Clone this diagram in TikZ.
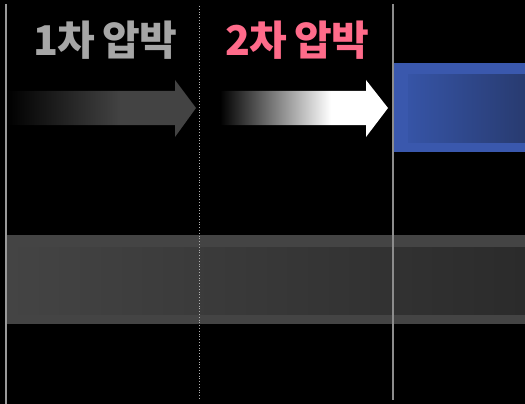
\documentclass[tikz,border=0pt]{standalone}
\usepackage{fontspec}
\newfontfamily\kor{Noto Sans CJK KR}[WordSpace=0.9, LetterSpace=-2.5]
\usepackage{tikz}
\usetikzlibrary{calc}
\definecolor{graytxt}{HTML}{A6A6A6}
\definecolor{pinktxt}{HTML}{FF6B8A}
\definecolor{arrowgray}{HTML}{434343}
\definecolor{blueedge}{HTML}{3A58AD}
\definecolor{blueleft}{HTML}{3654A6}
\definecolor{blueright}{HTML}{283B70}
\definecolor{bandedge}{HTML}{444444}
\definecolor{bandright}{HTML}{2B2B2B}
\pgfdeclarehorizontalshading{fadegray}{100bp}{color(0bp)=(black); color(25bp)=(black); color(55bp)=(arrowgray); color(100bp)=(arrowgray)}
\pgfdeclarehorizontalshading{fadewhite}{100bp}{color(0bp)=(black); color(25bp)=(black); color(58bp)=(white); color(100bp)=(white)}
\tikzstyle{title} = [draw=none, inner sep=0, font=\kor\bfseries\fontsize{41}{41}\selectfont]
\tikzstyle{wall} = [draw=gray!80, line width=2pt]

\begin{document}
\begin{tikzpicture}[x=1pt, y=-1pt]
\fill [black] (0,0) rectangle (525,404);
\useasboundingbox (0,0) rectangle (525,404);
% band
\fill [bandedge] (7,235) rectangle (525,324);
\shade [left color=bandedge, right color=bandright] (7,247) rectangle (525,314);
% blue block
\fill [blueedge] (392,63) rectangle (525,152);
\shade [left color=blueleft, right color=blueright] (408,75) rectangle (525,142);
% arrows
\shade [shading=fadegray] (7,91) -- (175,91) -- (175,80) -- (196,108) -- (175,137) -- (175,125) -- (7,125) -- cycle;
\shade [shading=fadewhite] (220,91) -- (366,91) -- (366,80) -- (388,108) -- (366,137) -- (366,125) -- (220,125) -- cycle;
% lines
\coordinate (Lt) at (6,4);
\coordinate (Lb) at (6,404);
\coordinate (Mt) at (199,6);
\coordinate (Mb) at (199,400);
\coordinate (Rt) at (393,4);
\coordinate (Rb) at (393,400);
\draw [wall] (Lt) -- (Lb);
\draw [draw=gray!60, line width=0.8pt, dotted] (Mt) -- (Mb);
\draw [wall, draw=gray!90] (Rt) -- (Rb);
% titles
\node [title, text=graytxt] (T1) at (105,40) {1차 압박};
\node [title, text=pinktxt] (T2) at (297,40) {2차 압박};
\end{tikzpicture}
\end{document}
